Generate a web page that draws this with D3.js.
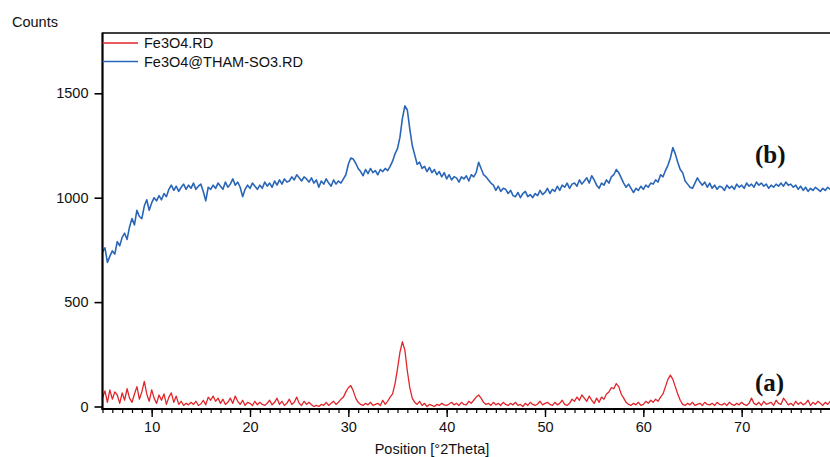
<!DOCTYPE html>
<html lang="en">
<head>
  <meta charset="UTF-8">
  <title>XRD Fe3O4</title>
  <script src="https://d3js.org/d3.v7.min.js"></script>
  <style>
    html, body { margin:0; background:#fff; overflow:hidden; }
    svg { display:block; }
    .axis path, .axis line { stroke:#000; }
    .axis text { font:14.5px "Liberation Sans", Arial, sans-serif; fill:#111; }
    .lbl { font:14.5px "Liberation Sans", Arial, sans-serif; fill:#111; }
    .tag { font:bold 25px "Liberation Serif", "Times New Roman", serif; fill:#111; }
  </style>
</head>
<body>
  <svg id="chart" width="830" height="457"></svg>
  <script>
    // scan: 5.00 .. 79.25 °2Theta, step 0.25
    const startAngle = 5, stepAngle = 0.25;

    // Fe3O4@THAM-SO3 (b)
    const countsB = [
      740,760,690,720, 745,730,790,770, 810,830,800,860, 900,870,940,910,
      900,960,990,940, 975,1000,985,1010, 990,1020,1005,1040, 1060,1035,1055,1030,
      1050,1065,1040,1060, 1045,1070,1040,1055, 1065,1030,985,1050, 1040,1060,1045,1070,
      1055,1040,1075,1050, 1065,1090,1060,1075, 1050,1005,1040,1060, 1045,1070,1055,1040,
      1060,1045,1075,1055, 1070,1050,1080,1060, 1085,1065,1090,1075, 1080,1100,1085,1110,
      1095,1080,1100,1090, 1075,1095,1070,1085, 1050,1080,1065,1090, 1070,1055,1085,1065,
      1080,1070,1090,1110, 1160,1190,1185,1165, 1140,1125,1105,1135, 1115,1140,1120,1130,
      1110,1135,1125,1140, 1130,1150,1175,1210, 1235,1290,1380,1440, 1420,1330,1250,1205,
      1160,1170,1140,1150, 1125,1145,1120,1135, 1110,1125,1100,1120, 1090,1110,1085,1100,
      1095,1075,1100,1090, 1105,1080,1110,1100, 1120,1170,1140,1110, 1100,1085,1070,1060,
      1035,1055,1030,1045, 1040,1020,1035,1010, 1005,1025,1000,1020, 1030,1005,1015,1000,
      1020,1010,1035,1015, 1025,1045,1020,1040, 1030,1055,1035,1060, 1050,1070,1045,1065,
      1070,1055,1085,1065, 1080,1095,1070,1105, 1085,1060,1045,1070, 1060,1085,1070,1100,
      1110,1135,1120,1095, 1070,1050,1065,1045, 1025,1045,1035,1055, 1040,1060,1050,1070,
      1065,1085,1075,1110, 1100,1130,1155,1190, 1240,1210,1170,1135, 1120,1080,1065,1050,
      1045,1070,1095,1075, 1060,1075,1050,1070, 1045,1060,1040,1055, 1050,1035,1060,1045,
      1055,1040,1065,1050, 1060,1045,1070,1055, 1065,1050,1075,1060, 1070,1055,1065,1045,
      1060,1050,1065,1055, 1070,1055,1075,1060, 1065,1050,1060,1040, 1055,1035,1050,1030,
      1045,1035,1050,1040, 1030,1045,1035,1050, 1040,1030
    ];

    // Fe3O4 (a)
    const countsA = [
      40,75,20,80, 35,70,55,15, 65,30,85,40, 20,60,95,35,
      70,120,60,25, 80,40,15,55, 30,60,10,45, 65,20,50,10,
      25,5,15,8, 20,10,25,5, 12,30,8,45, 30,50,25,40,
      15,35,10,20, 40,15,50,25, 10,30,5,20, 15,5,25,8,
      20,10,5,15, 30,8,20,40, 10,25,5,15, 35,10,20,45,
      15,5,25,10, 20,8,0,5, 0,10,5,20, 5,15,25,10,
      20,35,45,70, 90,100,75,40, 20,10,5,15, 8,20,5,10,
      15,5,30,10, 25,45,60,110, 180,260,310,270, 170,90,40,20,
      10,25,5,15, 0,10,5,0, 10,5,15,8, 5,12,20,8,
      15,5,20,10, 8,25,15,30, 45,55,40,20, 10,15,5,20,
      8,15,5,20, 10,5,15,8, 20,5,10,0, 15,5,20,10,
      5,12,25,8, 15,20,10,5, 20,8,15,30, 10,5,15,35,
      25,45,30,55, 40,25,50,30, 15,40,20,45, 35,60,70,90,
      85,110,95,60, 40,20,10,5, 15,8,20,5, 10,25,15,30,
      20,35,25,45, 60,95,130,150, 130,95,60,30, 10,5,15,8,
      20,5,10,15, 5,20,10,8, 15,5,20,10, 8,15,5,20,
      10,5,15,8, 20,10,5,15, 40,15,8,20, 5,25,10,15,
      20,5,30,15, 10,40,25,8, 15,5,25,10, 20,8,15,30,
      5,20,10,25, 15,5,20,10, 25,8
    ];

    const seriesNames = ["Fe3O4.RD", "Fe3O4@THAM-SO3.RD"];
    const seriesColors = ["#e0262a", "#2a66b8"];
    const yTicks = [0, 500, 1000, 1500];
    const xMajor = [10, 20, 30, 40, 50, 60, 70];

    const svg = d3.select("#chart");
    const plotL = 102.5, plotT = 33, axisY = 409;

    const x = d3.scaleLinear().domain([5, 80]).range([plotL, 840]);
    const y = d3.scaleLinear().domain([0, 1500]).range([406.5, 93.3]);

    const toPts = arr => arr.map((v, i) => [startAngle + i * stepAngle, v]);

    const plot = svg.append("g");
    svg.append("clipPath").attr("id", "clip")
      .append("rect").attr("x", plotL).attr("y", plotT).attr("width", 830 - plotL).attr("height", axisY - plotT);

    const line = d3.line().x(d => x(d[0])).y(d => y(d[1]));

    plot.append("path").datum(toPts(countsA))
      .attr("clip-path", "url(#clip)")
      .attr("fill", "none").attr("stroke", seriesColors[0]).attr("stroke-width", 1.3)
      .attr("stroke-linejoin", "round").attr("d", line);

    plot.append("path").datum(toPts(countsB))
      .attr("clip-path", "url(#clip)")
      .attr("fill", "none").attr("stroke", seriesColors[1]).attr("stroke-width", 1.6)
      .attr("stroke-linejoin", "round").attr("d", line);

    // top frame line
    svg.append("line").attr("x1", plotL).attr("x2", 830).attr("y1", plotT).attr("y2", plotT)
      .attr("stroke", "#000").attr("stroke-width", 1.5);

    // x axis: minor + major ticks
    const minor = d3.range(5, 81, 1);
    svg.append("g").attr("class", "axis").attr("transform", `translate(0,${axisY})`)
      .call(d3.axisBottom(x).tickValues(minor).tickSize(4).tickSizeOuter(0).tickFormat(""))
      .call(g => g.select(".domain").remove())
      .call(g => g.selectAll("line").attr("stroke-width", 1.2));

    svg.append("g").attr("class", "axis").attr("transform", `translate(0,${axisY})`)
      .call(d3.axisBottom(x).tickValues(xMajor).tickSize(8).tickSizeOuter(0).tickPadding(5).tickFormat(d3.format("d")))
      .call(g => g.select(".domain").remove())
      .call(g => g.selectAll("line").attr("stroke-width", 1.4));

    svg.append("line").attr("x1", plotL - 1).attr("x2", 830).attr("y1", axisY).attr("y2", axisY)
      .attr("stroke", "#000").attr("stroke-width", 2.2);

    // y axis
    svg.append("g").attr("class", "axis").attr("transform", `translate(${plotL},0)`)
      .call(d3.axisLeft(y).tickValues(yTicks).tickSize(8).tickSizeOuter(0).tickPadding(6).tickFormat(d3.format("d")))
      .call(g => g.select(".domain").remove())
      .call(g => g.selectAll("line").attr("stroke-width", 1.6));

    svg.append("line").attr("x1", plotL).attr("x2", plotL).attr("y1", plotT - 0.5).attr("y2", axisY + 1)
      .attr("stroke", "#000").attr("stroke-width", 2.2);

    // titles
    svg.append("text").attr("class", "lbl").attr("x", 12).attr("y", 27).text("Counts");
    svg.append("text").attr("class", "lbl").attr("x", 432).attr("y", 454)
      .attr("text-anchor", "middle").text("Position [°2Theta]");

    // legend
    const lg = svg.append("g");
    seriesNames.forEach((n, i) => {
      const ly = 43 + i * 18.5;
      lg.append("line").attr("x1", plotL).attr("x2", 138).attr("y1", ly).attr("y2", ly)
        .attr("stroke", seriesColors[i]).attr("stroke-width", 1.3);
      lg.append("text").attr("class", "lbl").attr("x", 144).attr("y", ly + 5).text(n);
    });

    // series tags
    svg.append("text").attr("class", "tag").attr("x", 755).attr("y", 163).text("(b)");
    svg.append("text").attr("class", "tag").attr("x", 755).attr("y", 391).text("(a)");
  </script>
</body>
</html>
